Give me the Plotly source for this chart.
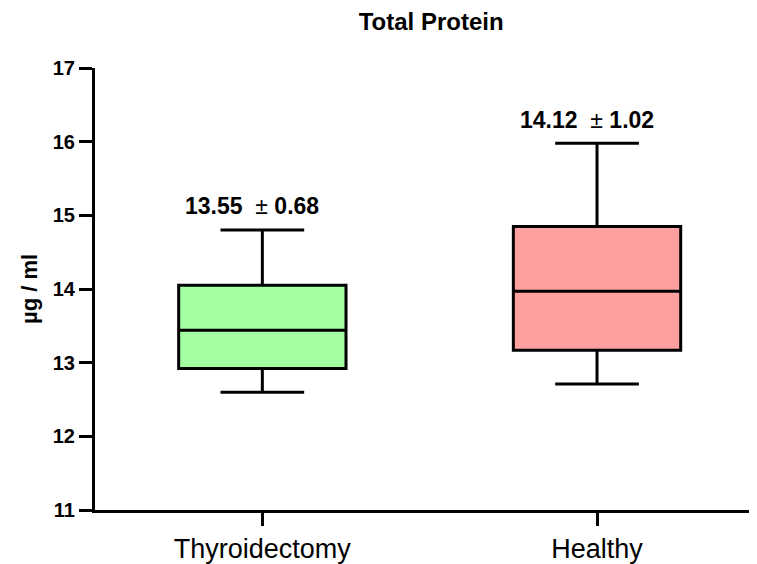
import plotly.graph_objects as go

groups = ["Thyroidectomy", "Healthy"]
lower = [12.60, 12.71]
q1 = [12.92, 13.17]
median = [13.44, 13.97]
q3 = [14.05, 14.85]
upper = [14.80, 15.98]
mean_sd = ["13.55", "14.12"]
sd = ["0.68", "1.02"]
label_y = [15.13, 16.30]
fills = ["#A3FFA0", "#FFA0A0"]

font = "Arial, Liberation Sans, sans-serif"

fig = go.Figure()
for i, g in enumerate(groups):
    fig.add_trace(go.Box(
        x=[g], q1=[q1[i]], median=[median[i]], q3=[q3[i]],
        lowerfence=[lower[i]], upperfence=[upper[i]],
        fillcolor=fills[i], line=dict(color="black", width=3),
        width=0.5, whiskerwidth=0.5, boxpoints=False,
        showlegend=False, hoverinfo="skip",
    ))
    fig.add_annotation(
        x=g, y=label_y[i], xshift=-10,
        text=f"<b>{mean_sd[i]}</b>  <span style='font-weight:normal'>±</span> <b>{sd[i]}</b>",
        showarrow=False, font=dict(family=font, size=23, color="black"),
    )

# page body adds ~8px offset, so the figure is 8px smaller
fig.update_layout(
    width=749, height=556,
    margin=dict(l=87, r=0, t=60, b=51),
    paper_bgcolor="white", plot_bgcolor="white",
    font=dict(family=font, color="black"),
    title=dict(text="<b>Total Protein</b>", x=0.565, xref="container",
               y=0.975, yref="container", xanchor="center", yanchor="middle",
               font=dict(size=24, color="black")),
)
fig.update_xaxes(
    type="category", categoryorder="array", categoryarray=groups,
    range=[-0.5, 1.478], showline=True, linewidth=3, linecolor="black",
    ticks="outside", ticklen=13, tickwidth=3, tickcolor="black",
    tickfont=dict(size=27, color="black"), showgrid=False, zeroline=False,
)
fig.update_yaxes(
    range=[11, 17], tickvals=[11, 12, 13, 14, 15, 16, 17],
    ticktext=["<b>%d</b>" % v for v in range(11, 18)],
    showline=True, linewidth=3, linecolor="black",
    ticks="outside", ticklen=13, tickwidth=3, tickcolor="black",
    tickfont=dict(size=20, color="black"), showgrid=False, zeroline=False,
    title=dict(text="<b>µg / ml</b>", font=dict(size=22, color="black"), standoff=10),
)

fig.write_html("out.html")
